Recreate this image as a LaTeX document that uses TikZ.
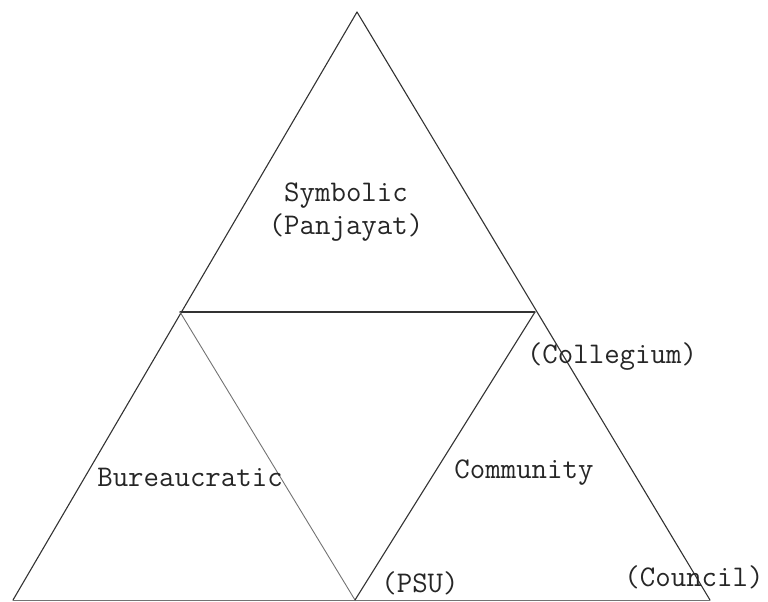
\documentclass[tikz,border=0pt]{standalone}
\usepackage{tikz}
\tikzset{
  edge/.style={draw=black!80, line width=1.1pt, line cap=round},
  faint/.style={draw=black!55, line width=0.9pt, line cap=round},
  lbl/.style={font=\fontsize{30}{33}\selectfont\ttfamily, text=black!85, inner sep=0pt, align=center}
}
\begin{document}
\begin{tikzpicture}[x=1pt,y=-1pt]
\useasboundingbox (0,0) rectangle (768,602);
\coordinate (A) at (357,12);
\coordinate (BL) at (13,600);
\coordinate (BR) at (710,600);
\coordinate (ML) at (180,312);
\coordinate (MR) at (535,312);
\coordinate (P) at (355,600);
\draw[edge] (A) -- (BL);
\draw[edge] (A) -- (BR);
\draw[faint] (BL) -- (BR);
\draw[edge] (ML) -- (MR);
\draw[faint] (ML) -- (P);
\draw[edge] (P) -- (MR);
\node[lbl] (sym) at (346,212) {Symbolic\\(Panjayat)};
\node[lbl] (bur) at (190,477) {Bureaucratic};
\node[lbl] (com) at (524,473) {Community};
\node[lbl] (col) at (612,357) {(Collegium)};
\node[lbl] (psu) at (420,583) {(PSU)};
\node[lbl] (cou) at (694,577) {(Council)};
\end{tikzpicture}
\end{document}
